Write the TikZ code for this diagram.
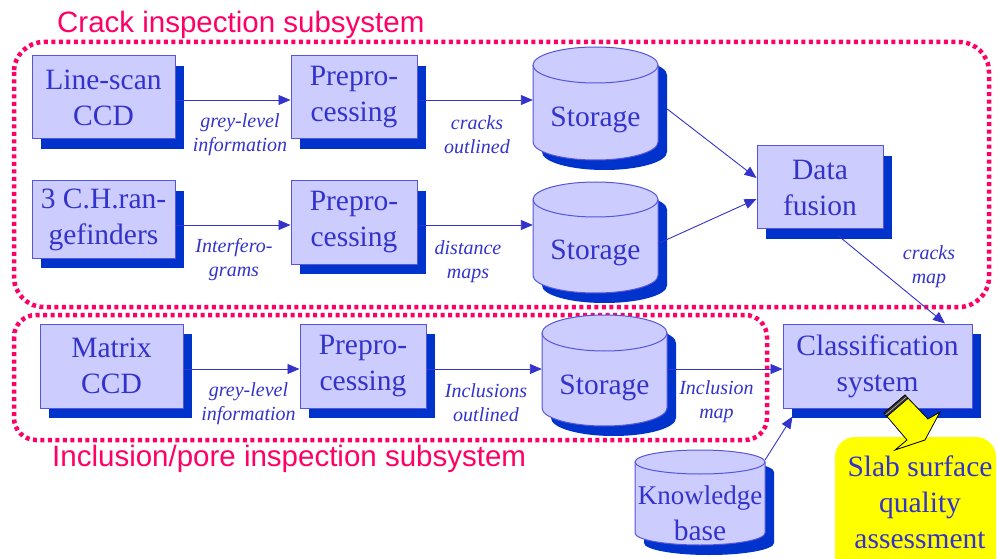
\documentclass[tikz,border=0pt]{standalone}
\usepackage{fontspec}
\setmainfont{Liberation Serif}
\setsansfont{Liberation Sans}
\usetikzlibrary{arrows.meta,shadows,calc}
\definecolor{boxc}{HTML}{CCCCFF}
\definecolor{bordc}{HTML}{5555DD}
\definecolor{txtc}{HTML}{3333CC}
\definecolor{shadc}{HTML}{0033CC}
\definecolor{pinkc}{HTML}{FF0066}
\definecolor{ylw}{HTML}{FFFF00}
\newcommand\mycyl[8]{%
  \fill[shadc] ({#2-#5+9},{-#3-#6-10}) -- ({#2-#5+9},{-#4+#6-10})
     arc[start angle=180,end angle=360,x radius=#5,y radius=#6]
     -- ({#2+#5+9},{-#3-#6-10})
     arc[start angle=0,end angle=180,x radius=#5,y radius=#6] -- cycle;
  \filldraw[fill=boxc,draw=bordc,line width=1pt] ({#2-#5},{-#3-#6}) -- ({#2-#5},{-#4+#6})
     arc[start angle=180,end angle=360,x radius=#5,y radius=#6]
     -- ({#2+#5},{-#3-#6})
     arc[start angle=0,end angle=180,x radius=#5,y radius=#6] -- cycle;
  \draw[bordc,line width=1pt] ({#2-#5},{-#3-#6})
     arc[start angle=180,end angle=360,x radius=#5,y radius=#6];
  \node[minimum width={2*#5},minimum height={#4-#3},inner sep=0pt] (#1) at (#2,{-(#3+#4)/2}) {};
  \node[cyltext] (#1t) at (#2,-#8) {#7};
}
\begin{document}
\begin{tikzpicture}[x=1pt,y=1pt,
  box/.style={draw=bordc,line width=1pt,fill=boxc,text=txtc,
    font=\fontsize{29.5}{36}\selectfont,align=center,inner sep=0pt,
    drop shadow={shadow xshift=9pt,shadow yshift=-10pt,fill=shadc,opacity=1}},
  cyltext/.style={text=txtc,font=\fontsize{29.5}{36}\selectfont,align=center,inner sep=0pt},
  lbl/.style={text=txtc,font=\itshape\fontsize{20}{24}\selectfont,align=center,inner sep=0pt},
  conn/.style={draw=txtc,line width=0.9pt,-{Triangle[length=12pt,width=10pt]}},
  dots/.style={draw=pinkc,line width=4.5pt,dash pattern=on 4pt off 3.5pt},
  ttl/.style={text=pinkc,font=\sffamily\fontsize{29.5}{34}\selectfont,inner sep=0pt,anchor=base west}]
\useasboundingbox (0,0) rectangle (997,-559);

% dotted subsystem frames
\draw[dots,rounded corners=30pt] (14,-42) rectangle (989,-307);
\draw[dots,rounded corners=22pt] (14,-315) rectangle (767,-440);
\node[ttl] (t1) at (57,-33) {Crack inspection subsystem};
\node[ttl] (t2) at (52,-466) {Inclusion/pore inspection subsystem};

% yellow result box
\fill[ylw,rounded corners=20pt] (835,-437) rectangle (996,-590);

% boxes
\node[box,minimum width=143,minimum height=83] (ls) at (103.5,-97.5) {Line-scan\\CCD};
\node[box,minimum width=126,minimum height=83] (p1) at (354,-97.5) {Prepro-\\cessing};
\node[box,minimum width=143,minimum height=77] (ch) at (103.5,-219.5) {3 C.H.ran-\\gefinders};
\node[box,minimum width=126,minimum height=83] (p2) at (354,-222.5) {Prepro-\\cessing};
\node[box,minimum width=143,minimum height=84] (mx) at (111.5,-366) {Matrix\\CCD};
\node[box,minimum width=126,minimum height=84] (p3) at (363,-366) {Prepro-\\cessing};
\node[box,minimum width=126,minimum height=83] (df) at (820,-187.5) {Data\\fusion};
\node[box,minimum width=189,minimum height=84] (cl) at (877.5,-366) {Classification\\system};

% cylinders
\mycyl{s1}{595.5}{47}{160}{62.5}{18}{Storage}{120}
\mycyl{s2}{595.5}{182}{293}{62.5}{17.5}{Storage}{253}
\mycyl{s3}{604.5}{315}{426}{62.5}{18}{Storage}{388}
\mycyl{kb}{700}{450}{545}{65}{12}{\fontsize{27}{31}\selectfont Knowledge\\base}{513}

% connectors
\draw[conn] ($(ls.east)+(0,-2.5)$) -- ($(p1.west)+(0,-2.5)$);
\coordinate (a1) at ($(p1.east)+(0,-2.5)$);
\draw[conn] (a1) -- (a1 -| s1.west);
\draw[conn] ($(ch.east)+(0,-5.5)$) -- ($(p2.west)+(0,-2.5)$);
\coordinate (a2) at ($(p2.east)+(0,-2.5)$);
\draw[conn] (a2) -- (a2 -| s2.west);
\coordinate (a3) at ($(mx.east)+(0,-3)$);
\draw[conn] (a3) -- (a3 -| p3.west);
\coordinate (a4) at ($(p3.east)+(0,-3)$);
\draw[conn] (a4) -- (a4 -| s3.west);
\draw[conn] (s3.east |- a4) -- (a4 -| cl.west);
\draw[conn] ($(s1.east)+(9,-5.5)$) -- ($(df.west)+(0,9.5)$);
\draw[conn] ($(s2.east)+(0,-6)$) -- ($(df.west)+(0,-11.5)$);
\draw[conn] ($(df.south)+(18,-6)$) -- ($(cl.north)+(67.5,0)$);
\draw[conn] ($(kb.north east)+(0,-10)$) -- ($(cl.south west)+(10,-8)$);

% connector labels
\node[lbl] (l1) at (240,-135) {grey-level\\information};
\node[lbl] (l2) at (477,-135) {cracks\\outlined};
\node[lbl] (l3) at (234,-259.5) {Interfero-\\grams};
\node[lbl] (l4) at (468,-262) {distance\\maps};
\node[lbl] (l5) at (929,-266.5) {cracks\\map};
\node[lbl] (l6) at (248.5,-404) {grey-level\\information};
\node[lbl] (l7) at (486,-403) {Inclusions\\outlined};
\node[lbl] (l8) at (716.5,-401.5) {Inclusion\\map};

% yellow block arrow
\filldraw[fill=ylw,draw=black,line width=0.8pt,line join=miter]
  (884,-413) -- (905,-395) -- (928,-419) -- (940,-412) -- (925,-440)
  -- (895,-450) -- (907,-440) -- cycle;
\filldraw[fill=black!80,draw=black,line width=0.6pt] (884,-413) -- (905,-395) -- (908,-398.5) -- (887,-416.5) -- cycle;
\draw[gray!40,line width=0.5pt] (885.5,-414.8) -- (906.5,-396.8);

% result text
\node[cyltext] (res) at (920,-502) {\fontsize{29.5}{35}\selectfont Slab surface\\quality\\assessment};
\end{tikzpicture}
\end{document}
